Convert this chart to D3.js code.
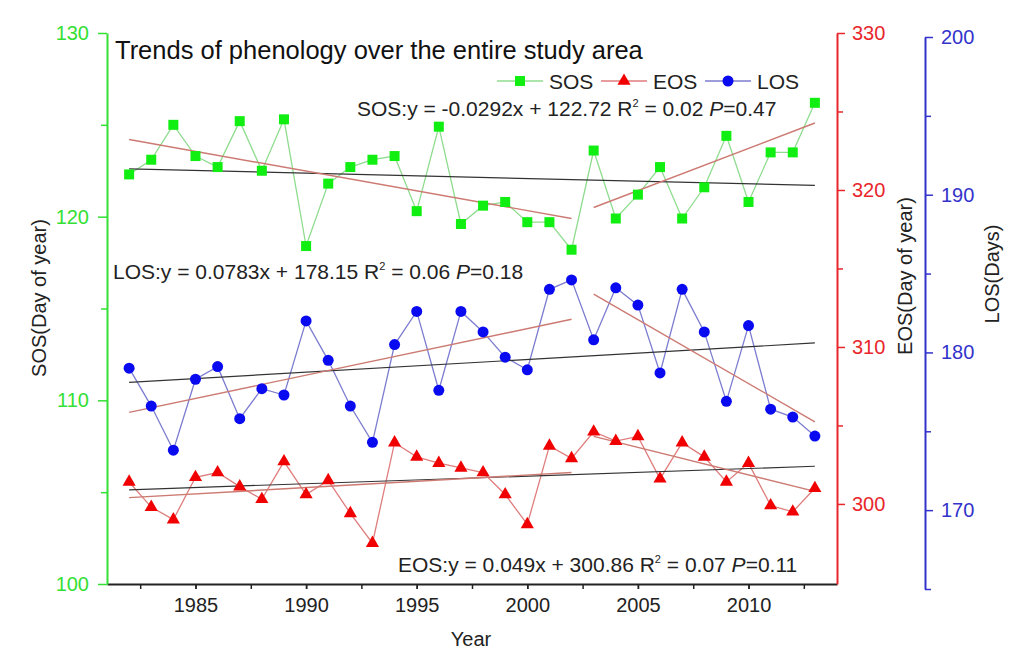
<!DOCTYPE html>
<meta charset="utf-8">
<style>
    body { margin: 0; background: #fff; }
    text { font-family: "Liberation Sans", Arial, sans-serif; }
</style>
<body>
<script src="https://cdn.jsdelivr.net/npm/d3@7"></script>
<script>

    var width = 1024,
        height = 672;

    var years = d3.range(1982, 2014);

    var sos = [122.3, 123.1, 125.0, 123.3, 122.7, 125.2, 122.5, 125.3, 118.4, 121.8,
        122.7, 123.1, 123.3, 120.3, 124.9, 119.6, 120.6, 120.8, 119.7, 119.7,
        118.2, 123.6, 119.9, 121.2, 122.7, 119.9, 121.6, 124.4, 120.8, 123.5,
        123.5, 126.2];

    var eos = [301.4, 299.8, 299.0, 301.7, 302.0, 301.1, 300.3, 302.7, 300.6, 301.5,
        299.4, 297.5, 303.9, 303.0, 302.6, 302.3, 302.0, 300.6, 298.7, 303.7,
        302.9, 304.6, 304.0, 304.3, 301.6, 303.9, 303.0, 301.4, 302.6, 299.9,
        299.5, 301.0];

    var los = [179.0, 176.6, 173.8, 178.3, 179.1, 175.8, 177.7, 177.3, 182.0, 179.5,
        176.6, 174.3, 180.5, 182.6, 177.6, 182.6, 181.3, 179.7, 178.9, 184.0,
        184.6, 180.8, 184.1, 183.0, 178.7, 184.0, 181.3, 176.9, 181.7, 176.4,
        175.9, 174.7];

    // trend line end points [year, value]
    var sosFit = [[1982, 122.6], [2013, 121.7]];
    var sosFit1 = [[1982, 124.2], [2002, 119.9]];
    var sosFit2 = [[2003, 120.5], [2013, 125.1]];
    var eosFit = [[1982, 300.9], [2013, 302.4]];
    var eosFit1 = [[1982, 300.4], [2002, 302.0]];
    var eosFit2 = [[2003, 304.3], [2013, 300.8]];
    var losFit = [[1982, 178.1], [2013, 180.6]];
    var losFit1 = [[1982, 176.2], [2002, 182.1]];
    var losFit2 = [[2003, 183.7], [2013, 175.6]];

    var yearTicks = [1985, 1990, 1995, 2000, 2005, 2010];
    var sosTicks = [100, 110, 120, 130];
    var eosTicks = [300, 310, 320, 330];
    var losTicks = [170, 180, 190, 200];

    var green = "#33e033", red = "#e8262b", blue = "#3333cc";

    var x = d3.scaleLinear().domain([1981, 2014]).range([107, 837]);
    var ySos = d3.scaleLinear().domain([100, 130]).range([584, 33]);
    var yEos = d3.scaleLinear().domain([294.9, 330]).range([584, 33]);
    var yLos = d3.scaleLinear().domain([165, 200]).range([589, 37]);

    var svg = d3.select("body").append("svg")
        .attr("width", width)
        .attr("height", height);

    function styleAxis(g, color, fs) {
        g.select(".domain").attr("stroke", color).attr("stroke-width", 2);
        g.selectAll(".tick line").attr("stroke", color).attr("stroke-width", 1.5);
        g.selectAll(".tick text").attr("fill", color)
            .style("font-size", fs + "px")
            .style("font-family", "'Liberation Sans', Arial, sans-serif");
    }

    // minor ticks
    function minor(g, axis) {
        g.call(axis.tickFormat("").tickSizeOuter(0));
        g.select(".domain").remove();
    }

    // x axis
    svg.append("g").attr("transform", "translate(0,584)")
        .call(g => minor(g, d3.axisBottom(x).tickValues(d3.range(1982.5, 2014, 2.5)).tickSize(5)))
        .selectAll("line").attr("stroke", "#222").attr("stroke-width", 1.5);
    svg.append("g").attr("transform", "translate(0,584)")
        .call(d3.axisBottom(x).tickValues(yearTicks).tickFormat(d3.format("d")).tickSize(5).tickSizeOuter(0).tickPadding(9))
        .call(g => styleAxis(g, "#222", 20))
        .call(g => g.selectAll(".tick text").attr("fill", "#222"));

    // SOS axis
    svg.append("g").attr("transform", "translate(107,0)")
        .call(g => minor(g, d3.axisLeft(ySos).tickValues([105, 115, 125]).tickSize(6)))
        .selectAll("line").attr("stroke", green).attr("stroke-width", 1.5);
    svg.append("g").attr("transform", "translate(107,0)")
        .call(d3.axisLeft(ySos).tickValues(sosTicks).tickSize(9).tickSizeOuter(0).tickPadding(9))
        .call(g => styleAxis(g, green, 20));

    // EOS axis
    svg.append("g").attr("transform", "translate(837,0)")
        .call(g => minor(g, d3.axisRight(yEos).tickValues([305, 315, 325]).tickSize(6)))
        .selectAll("line").attr("stroke", red).attr("stroke-width", 1.5);
    svg.append("g").attr("transform", "translate(837,0)")
        .call(d3.axisRight(yEos).tickValues(eosTicks).tickSize(8).tickSizeOuter(0).tickPadding(7))
        .call(g => styleAxis(g, red, 20));

    // LOS axis
    svg.append("g").attr("transform", "translate(925,0)")
        .call(g => minor(g, d3.axisRight(yLos).tickValues([165, 175, 185, 195]).tickSize(6)))
        .selectAll("line").attr("stroke", blue).attr("stroke-width", 1.5);
    svg.append("g").attr("transform", "translate(925,0)")
        .call(d3.axisRight(yLos).tickValues(losTicks).tickSize(8).tickSizeOuter(0).tickPadding(8))
        .call(g => styleAxis(g, blue, 20));

    // axis titles
    svg.append("text").attr("transform", "translate(46,298) rotate(-90)")
        .attr("text-anchor", "middle").style("font-size", "20px").attr("fill", "#222")
        .text("SOS(Day of year)");
    svg.append("text").attr("transform", "translate(912,276) rotate(-90)")
        .attr("text-anchor", "middle").style("font-size", "20px").attr("fill", "#222")
        .text("EOS(Day of year)");
    svg.append("text").attr("transform", "translate(999,274) rotate(-90)")
        .attr("text-anchor", "middle").style("font-size", "20px").attr("fill", "#222")
        .text("LOS(Days)");
    svg.append("text").attr("x", 471).attr("y", 646)
        .attr("text-anchor", "middle").style("font-size", "20px").attr("fill", "#222")
        .text("Year");

    var seriesLine = function(ys) {
        return d3.line().x((d, i) => x(years[i])).y(d => ys(d));
    };
    var fitLine = function(ys) {
        return d3.line().x(d => x(d[0])).y(d => ys(d[1]));
    };

    // series lines
    svg.append("path").datum(sos).attr("d", seriesLine(ySos))
        .attr("fill", "none").attr("stroke", "#8fdc8f").attr("stroke-width", 1.3);
    svg.append("path").datum(los).attr("d", seriesLine(yLos))
        .attr("fill", "none").attr("stroke", "#7c7cd0").attr("stroke-width", 1.3);
    svg.append("path").datum(eos).attr("d", seriesLine(yEos))
        .attr("fill", "none").attr("stroke", "#df7c7c").attr("stroke-width", 1.3);

    // trend lines
    [[sosFit, ySos], [eosFit, yEos], [losFit, yLos]].forEach(function(p) {
        svg.append("path").datum(p[0]).attr("d", fitLine(p[1]))
            .attr("fill", "none").attr("stroke", "#333").attr("stroke-width", 1.2);
    });
    [[sosFit1, ySos], [sosFit2, ySos], [eosFit1, yEos], [eosFit2, yEos], [losFit1, yLos], [losFit2, yLos]].forEach(function(p) {
        svg.append("path").datum(p[0]).attr("d", fitLine(p[1]))
            .attr("fill", "none").attr("stroke", "#cc7a72").attr("stroke-width", 1.4);
    });

    // markers
    svg.selectAll(".sq").data(sos).enter().append("rect")
        .attr("x", (d, i) => x(years[i]) - 5).attr("y", d => ySos(d) - 5)
        .attr("width", 10).attr("height", 10).attr("fill", "#11ee11");
    svg.selectAll(".ci").data(los).enter().append("circle")
        .attr("cx", (d, i) => x(years[i])).attr("cy", d => yLos(d))
        .attr("r", 5.5).attr("fill", "#0a0af0");
    var tri = d3.symbol().type(d3.symbolTriangle).size(75);
    svg.selectAll(".tr").data(eos).enter().append("path")
        .attr("transform", (d, i) => "translate(" + x(years[i]) + "," + yEos(d) + ")")
        .attr("d", tri).attr("fill", "#f00000");

    // title
    svg.append("text").attr("x", 115).attr("y", 59)
        .style("font-size", "25.5px").attr("fill", "#111")
        .text("Trends of phenology over the entire study area");

    // legend
    var legend = [
        {name: "SOS", lx: 497, color: "#8fdc8f", mark: "sq", fill: "#11ee11"},
        {name: "EOS", lx: 601, color: "#df7c7c", mark: "tr", fill: "#f00000"},
        {name: "LOS", lx: 705, color: "#7c7cd0", mark: "ci", fill: "#0a0af0"}
    ];
    legend.forEach(function(l) {
        var g = svg.append("g").attr("transform", "translate(" + l.lx + ",81)");
        g.append("line").attr("x1", 0).attr("x2", 46).attr("stroke", l.color).attr("stroke-width", 1.3);
        if (l.mark === "sq") g.append("rect").attr("x", 18).attr("y", -5).attr("width", 10).attr("height", 10).attr("fill", l.fill);
        if (l.mark === "tr") g.append("path").attr("transform", "translate(23,0)").attr("d", tri).attr("fill", l.fill);
        if (l.mark === "ci") g.append("circle").attr("cx", 23).attr("r", 5.5).attr("fill", l.fill);
        g.append("text").attr("x", 52).attr("y", 8).style("font-size", "21px").attr("fill", "#222").text(l.name);
    });

    // equations
    function equation(xp, yp, head, r2, p) {
        var t = svg.append("text").attr("x", xp).attr("y", yp)
            .style("font-size", "21px").attr("fill", "#222");
        t.append("tspan").text(head + " R");
        t.append("tspan").attr("dy", -9).style("font-size", "11px").text("2");
        t.append("tspan").attr("dy", 9).text(" = " + r2 + " ");
        t.append("tspan").style("font-style", "italic").text("P");
        t.append("tspan").text("=" + p);
    }
    equation(357, 116, "SOS:y = -0.0292x + 122.72", "0.02", "0.47");
    equation(113, 279, "LOS:y = 0.0783x + 178.15", "0.06", "0.18");
    equation(398, 572, "EOS:y = 0.049x + 300.86", "0.07", "0.11");

</script>
